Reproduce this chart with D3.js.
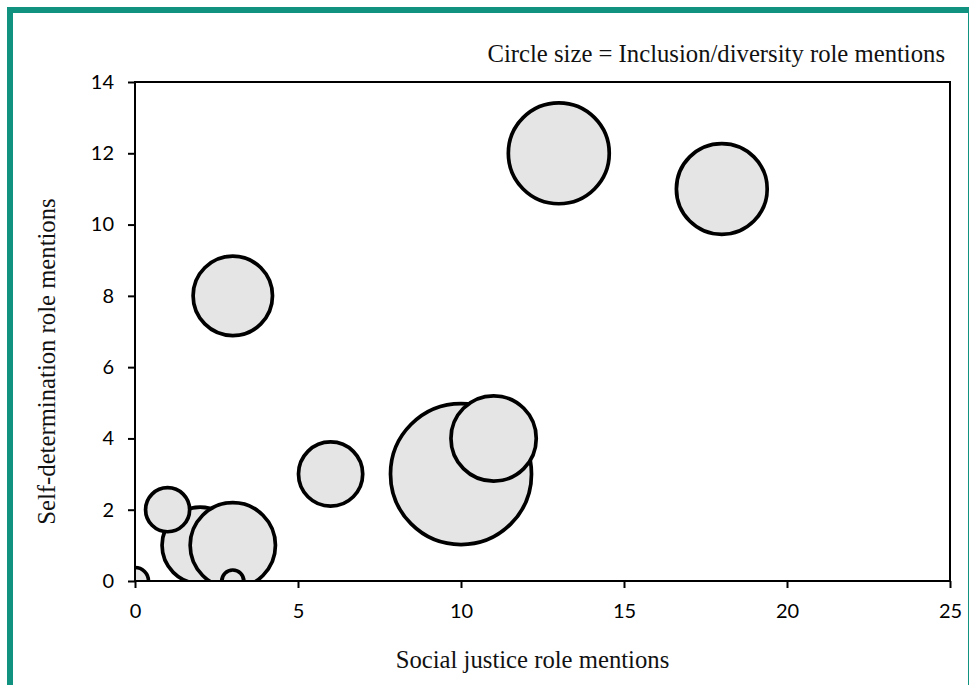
<!DOCTYPE html>
<html>
<head>
<meta charset="utf-8">
<script src="https://cdn.jsdelivr.net/npm/d3@7"></script>
<style>
  html, body { margin: 0; padding: 0; background: #fff; overflow: hidden; width: 969px; height: 685px; }
  #frame {
    position: absolute; left: 7px; top: 7px; width: 955px; height: 678px;
    border-left: 6px solid #11917f; border-top: 6px solid #11917f; border-right: 6px solid #11917f;
  }
  svg { position: absolute; left: 0; top: 0; }
  .serif { font-family: 'Liberation Serif', 'DejaVu Serif', serif; font-size: 24.7px; fill: #111; }
  .tick text { font-family: Lato, 'Open Sans', sans-serif; font-size: 20px; fill: #000; }
</style>
</head>
<body>
<div id="frame"></div>
<svg id="chart" width="969" height="685"></svg>
<script>
// Data (drawing order as in the reference)
const socialJustice   = [0, 2, 1, 3, 3, 3, 6, 10, 11, 13, 18];
const selfDetermination = [0, 1, 2, 1, 0, 8, 3, 3, 4, 12, 11];
const inclusionDiversity = [3, 24, 8, 30, 2, 26, 17, 82, 30, 42, 34];
const xTicks = [0, 5, 10, 15, 20, 25];
const yTicks = [0, 2, 4, 6, 8, 10, 12, 14];

const points = socialJustice.map((x, i) => ({ x, y: selfDetermination[i], s: inclusionDiversity[i] }));

const margin = { left: 135, top: 82, right: 19, bottom: 104 };
const W = 969, H = 685;
const iw = W - margin.left - margin.right;
const ih = H - margin.top - margin.bottom;

const svg = d3.select('#chart');
const g = svg.append('g').attr('transform', `translate(${margin.left},${margin.top})`);

const x = d3.scaleLinear().domain([0, 25]).range([0, iw]);
const y = d3.scaleLinear().domain([0, 14]).range([ih, 0]);
const r = d3.scaleSqrt().domain([0, d3.max(inclusionDiversity)]).range([0, 70.5]);

svg.append('defs').append('clipPath').attr('id', 'plotclip')
  .append('rect').attr('x', 0).attr('y', 0).attr('width', iw).attr('height', ih);

const bubbles = g.append('g').attr('clip-path', 'url(#plotclip)');
bubbles.selectAll('circle').data(points).join('circle')
  .attr('cx', d => x(d.x)).attr('cy', d => y(d.y)).attr('r', d => r(d.s))
  .attr('fill', '#e5e5e5').attr('stroke', '#000').attr('stroke-width', 3.7);

// frame
g.append('rect').attr('x', 0).attr('y', 0).attr('width', iw).attr('height', ih)
  .attr('fill', 'none').attr('stroke', '#000').attr('stroke-width', 2);

const xAxis = g.append('g').attr('transform', `translate(0,${ih})`)
  .call(d3.axisBottom(x).tickValues(xTicks).tickSize(7).tickPadding(16));
const yAxis = g.append('g')
  .call(d3.axisLeft(y).tickValues(yTicks).tickSize(7).tickPadding(14));
[xAxis, yAxis].forEach(a => {
  a.select('.domain').remove();
  a.attr('font-family', null).attr('font-size', null);
  a.selectAll('.tick line').attr('stroke', '#000').attr('stroke-width', 2);
  a.selectAll('.tick text').attr('fill', '#000');
});

svg.append('text').attr('class', 'serif').attr('x', 945).attr('y', 62).attr('text-anchor', 'end')
  .text('Circle size = Inclusion/diversity role mentions');

svg.append('text').attr('class', 'serif').attr('x', margin.left + iw / 2 - 10).attr('y', 668).attr('text-anchor', 'middle')
  .text('Social justice role mentions');

svg.append('text').attr('class', 'serif').attr('transform', `translate(55,${margin.top + ih / 2 + 30}) rotate(-90)`)
  .attr('text-anchor', 'middle')
  .text('Self-determination role mentions');
</script>
</body>
</html>
